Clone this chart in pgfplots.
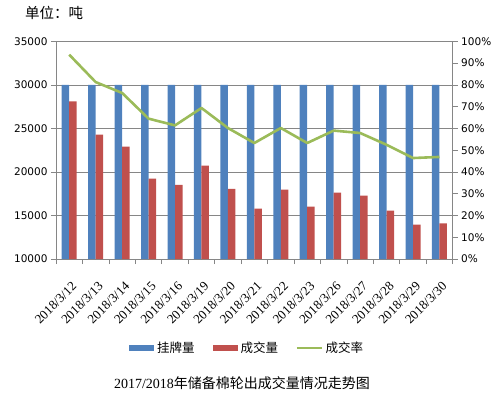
\documentclass[border=0pt]{standalone}
\usepackage{pgfplots}
\pgfplotsset{compat=1.18}
\usepackage{fontspec}
\setmainfont{Liberation Serif}
\newfontfamily\cjk{Noto Sans CJK SC}
\newfontfamily\tickfont{DejaVu Sans}
\definecolor{cblue}{HTML}{4F81BD}
\definecolor{cred}{HTML}{C0504D}
\definecolor{cgreen}{HTML}{9BBB59}
\definecolor{cgrid}{HTML}{868686}
\pgfplotstableread{
x listed traded rate
0 30000 28100 93.9
1 30000 24280 81.3
2 30000 22900 76.3
3 30000 19220 64.5
4 30000 18530 61.4
5 30000 20720 69.4
6 30000 18070 60.2
7 30000 15780 53.3
8 30000 17960 60.2
9 30000 16010 53.3
10 30000 17620 59.0
11 30000 17270 57.9
12 30000 15550 52.5
13 30000 13940 46.4
14 30000 14090 46.9
}\datatable
\begin{document}
\begin{tikzpicture}
\useasboundingbox (-56bp,-139bp) rectangle (443bp,259bp);
\begin{axis}[
  at={(0,0)}, anchor=south west,
  scale only axis, width=396.7bp, height=217.6bp,
  xmin=-0.5, xmax=14.5, ymin=10000, ymax=35000,
  scaled y ticks=false,
  axis y line*=left, axis x line*=bottom,
  axis line style={cgrid, line width=0.7bp},
  tick style={cgrid, line width=0.7bp},
  tick align=outside, major tick length=5bp,
  ytick={10000,15000,20000,25000,30000,35000},
  yticklabels={10000,15000,20000,25000,30000,35000},
  yticklabel style={font=\tickfont\fontsize{10.5bp}{12bp}\selectfont, text=black},
  ymajorgrids, major grid style={cgrid, line width=0.7bp},
  xtick={-0.5,0.5,...,14.5},
  x tick label as interval,
  xticklabels={2018/3/12,2018/3/13,2018/3/14,2018/3/15,2018/3/16,2018/3/19,2018/3/20,2018/3/21,2018/3/22,2018/3/23,2018/3/26,2018/3/27,2018/3/28,2018/3/29,2018/3/30},
  xticklabel style={xshift=2bp, yshift=-17bp, rotate=45, anchor=north east, inner sep=0pt, font=\fontsize{13bp}{15bp}\selectfont},
  ybar=0pt, bar width=7.5bp,
  legend columns=3,
  legend style={draw=none, fill=none, at={(axis description cs:0.482,-0.41)}, anchor=center,
    font=\cjk\fontsize{12.5bp}{14bp}\selectfont,
    /tikz/every even column/.append style={column sep=16bp},
    /tikz/every odd column/.append style={column sep=1bp}},
]
\addplot[fill=cblue, draw=none, legend image code/.code={\fill[cblue] (0bp,-3bp) rectangle (25bp,3bp);}] table[x=x, y=listed] {\datatable};
\addlegendentry{挂牌量}
\addplot[fill=cred, draw=none, legend image code/.code={\fill[cred] (0bp,-3bp) rectangle (25bp,3bp);}] table[x=x, y=traded] {\datatable};
\addlegendentry{成交量}
\addlegendimage{legend image code/.code={\draw[cgreen, line width=1.5bp] (0bp,0bp) -- (25bp,0bp);}}
\addlegendentry{成交率}
\end{axis}
\begin{axis}[
  at={(0,0)}, anchor=south west,
  scale only axis, width=396.7bp, height=217.6bp,
  xmin=-0.5, xmax=14.5, ymin=0, ymax=100,
  axis y line*=right, axis x line=none,
  axis line style={cgrid, line width=0.7bp},
  tick style={cgrid, line width=0.7bp},
  tick align=outside, major tick length=5bp,
  ytick={0,10,...,100},
  yticklabels={0\%,10\%,20\%,30\%,40\%,50\%,60\%,70\%,80\%,90\%,100\%},
  yticklabel style={font=\tickfont\fontsize{10.5bp}{12bp}\selectfont, text=black},
]
\addplot[cgreen, line width=2.6bp, line join=round] table[x=x, y=rate] {\datatable};
\end{axis}
\node[anchor=west, inner sep=0pt, font=\cjk\fontsize{14.5bp}{16bp}\selectfont] at (-31bp,246bp) {单位：吨};
\node[inner sep=0pt, font=\fontsize{14bp}{16bp}\selectfont] at (186bp,-124bp) {2017/2018{\cjk 年储备棉轮出成交量情况走势图}};
\end{tikzpicture}
\end{document}
